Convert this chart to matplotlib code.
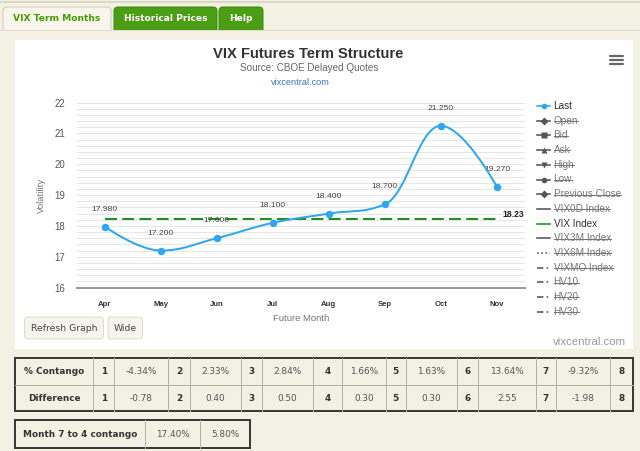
import numpy as np
import matplotlib
matplotlib.use('Agg')
import matplotlib.pyplot as plt
from matplotlib.patches import Rectangle, FancyBboxPatch, PathPatch
from matplotlib.path import Path
from matplotlib.lines import Line2D

# ---------------- data ----------------
months = ['Apr', 'May', 'Jun', 'Jul', 'Aug', 'Sep', 'Oct', 'Nov']
last_prices = [17.98, 17.20, 17.60, 18.10, 18.40, 18.70, 21.25, 19.27]
vix_index = 18.23
legend_names = ['Last', 'Open', 'Bid', 'Ask', 'High', 'Low', 'Previous Close',
                'VIX0D Index', 'VIX Index', 'VIX3M Index', 'VIX6M Index',
                'VIXMO Index', 'HV10', 'HV20', 'HV30']
legend_active = ['Last', 'VIX Index']
month_numbers = [1, 2, 3, 4, 5, 6, 7, 8]
contango_pct = [-4.34, 2.33, 2.84, 1.66, 1.63, 13.64, -9.32]
difference = [-0.78, 0.40, 0.50, 0.30, 0.30, 2.55, -1.98]
m7_to_4 = [17.40, 5.80]
tabs = ['VIX Term Months', 'Historical Prices', 'Help']

# ---------------- style ----------------
W, H = 640, 451
PT = 0.72  # px -> pt
BEIGE = '#f3f0e4'
GREEN_TAB = '#4a9d14'
BLUE = '#2ea6f2'
VIXGREEN = '#1f8f1f'
SANS = 'Liberation Sans'
UI = 'DejaVu Sans'

fig = plt.figure(figsize=(W / 100, H / 100), dpi=100)
fig.patch.set_facecolor(BEIGE)

bg = fig.add_axes([0, 0, 1, 1])
bg.set_xlim(0, W)
bg.set_ylim(H, 0)
bg.axis('off')

# top strip lines
bg.add_line(Line2D([0, W], [1.5, 1.5], color='#ddd8c4', lw=2 * PT))
bg.add_line(Line2D([0, W], [30, 30], color='#e2ddcb', lw=1 * PT))

# tabs
tab_x = [(3, 111), (114, 217), (219, 263)]
for i, (name, (x0, x1)) in enumerate(zip(tabs, tab_x)):
    if i == 0:
        fc, ec, tc = '#f7f5ec', '#d2cdb8', '#459e00'
    else:
        fc, ec, tc = GREEN_TAB, '#3d8a0c', 'white'
    bg.add_patch(FancyBboxPatch((x0, 7), x1 - x0, 26, boxstyle='round,pad=0,rounding_size=4',
                                fc=fc, ec=ec, lw=1 * PT))
    bg.text((x0 + x1) / 2, 18.5, name, ha='center', va='center', color=tc,
            fontsize=6.6, fontweight='bold', family=UI)
bg.add_patch(Rectangle((0, 30.5), W, 5, fc=BEIGE, ec='none'))

# white chart panel
bg.add_patch(Rectangle((15, 40), 618, 309, fc='white', ec='none'))

# titles
bg.text(308.5, 54.5, 'VIX Futures Term Structure', ha='center', va='center',
        fontsize=14.7 * PT, fontweight='bold', color='#333333', family=SANS)
bg.text(308.8, 68.3, 'Source: CBOE Delayed Quotes', ha='center', va='center',
        fontsize=9.9 * PT, color='#666666', family=SANS)
bg.text(300, 82.7, 'vixcentral.com', ha='center', va='center',
        fontsize=9.2 * PT, color='#3a74c0', family=SANS)

# hamburger icon
for yy in (55.5, 59.5, 63.5):
    bg.add_line(Line2D([610, 623], [yy, yy], color='#666666', lw=2.2 * PT,
                       solid_capstyle='round'))

# ---------------- main chart ----------------
ax_l, ax_r, ax_t, ax_b = 76.7, 525, 102.7, 287.5
ax = fig.add_axes([ax_l / W, 1 - ax_b / H, (ax_r - ax_l) / W, (ax_b - ax_t) / H])
ax.set_facecolor('none')
ax.set_zorder(2)
n = len(months)
xs = np.arange(n)
ax.set_xlim(-0.5, n - 0.5)
ax.set_ylim(16, 22)
ax.set_yticks(range(16, 23))
ax.set_yticks(np.round(np.arange(16, 22.001, 0.2), 1), minor=True)
ax.yaxis.grid(True, which='both', color='#e6e6e6', lw=1 * PT)
ax.set_axisbelow(True)
for s in ('top', 'right', 'left'):
    ax.spines[s].set_visible(False)
ax.spines['bottom'].set_color('#999999')
ax.spines['bottom'].set_linewidth(2 * PT)
ax.tick_params(axis='y', which='both', length=0, pad=8.4, labelsize=9.6 * PT,
               labelcolor='#555555')
ax.tick_params(axis='x', length=0, pad=13.5 * PT, labelsize=7.8 * PT,
               labelcolor='#333333')
ax.set_xticks(xs)
ax.set_xticklabels(months, fontweight='bold', family=SANS)
for lb in ax.get_yticklabels():
    lb.set_family(SANS)
ax.set_ylabel('Volatility', fontsize=9.5 * PT, color='#777777', family=SANS, labelpad=6)
ax.set_xlabel('Future Month', fontsize=9.5 * PT, color='#777777', family=SANS, labelpad=4.5)


def highcharts_spline(xv, yv, smoothing=1.5):
    m = len(xv)
    verts = [(xv[0], yv[0])]
    codes = [Path.MOVETO]
    right_prev = (xv[0], yv[0])
    for i in range(1, m):
        x, y = xv[i], yv[i]
        lx, ly = xv[i - 1], yv[i - 1]
        if i < m - 1:
            nx, ny = xv[i + 1], yv[i + 1]
            d = smoothing + 1
            lcx = (smoothing * x + lx) / d
            lcy = (smoothing * y + ly) / d
            rcx = (smoothing * x + nx) / d
            rcy = (smoothing * y + ny) / d
            if rcx != lcx:
                corr = ((rcy - lcy) * (rcx - x)) / (rcx - lcx) + y - rcy
                lcy += corr
                rcy += corr
            if lcy > ly and lcy > y:
                lcy = max(ly, y); rcy = 2 * y - lcy
            elif lcy < ly and lcy < y:
                lcy = min(ly, y); rcy = 2 * y - lcy
            if rcy > ny and rcy > y:
                rcy = max(ny, y); lcy = 2 * y - rcy
            elif rcy < ny and rcy < y:
                rcy = min(ny, y); lcy = 2 * y - rcy
        else:
            lcx, lcy, rcx, rcy = x, y, x, y
        verts += [right_prev, (lcx, lcy), (x, y)]
        codes += [Path.CURVE4] * 3
        right_prev = (rcx, rcy)
    return Path(verts, codes)


# VIX index dashed line
ax.plot([xs[0], xs[-1]], [vix_index, vix_index], color=VIXGREEN, lw=2 * PT,
        linestyle=(0, (6, 2.6)), zorder=3)
ax.annotate(f'{vix_index:.2f}', (xs[-1], vix_index), xytext=(6 * PT, 4.5 * PT),
            textcoords='offset points', ha='left', va='center', fontsize=8.7 * PT,
            fontweight='bold', color='#222222', family=SANS, annotation_clip=False)

# Last series
ax.add_patch(PathPatch(highcharts_spline(list(xs), last_prices), fc='none', ec=BLUE,
                       lw=2 * PT, zorder=4))
ax.plot(xs, last_prices, 'o', color=BLUE, ms=7.5 * PT, mec='none', zorder=5)
for x, v in zip(xs, last_prices):
    ax.annotate(f'{v:.3f}', (x, v), xytext=(0, 17.5 * PT), textcoords='offset points',
                ha='center', va='center', fontsize=8.5 * PT, color='#444444', family=SANS)

# ---------------- legend ----------------
markers = ['o', 'D', 's', '^', 'v', 'o', 'D', None, None, None, None, None, None, None, None]
styles = ['-', '-', '-', '-', '-', '-', '-', '-', '-', '-', ':', (0, (4, 2, 1, 2)),
          (0, (4, 2, 1, 2)), (0, (4, 2, 1, 2)), (0, (4, 2, 1, 2))]
texts = []
for i, name in enumerate(legend_names):
    yy = 106 + i * 14.7
    active = name in legend_active
    if name == 'Last':
        col = BLUE
    elif name == 'VIX Index':
        col = VIXGREEN
    else:
        col = '#555555'
    bg.add_line(Line2D([537, 550], [yy, yy], color=col, lw=1.6 * PT, linestyle=styles[i]))
    if markers[i]:
        bg.add_line(Line2D([543.5], [yy], marker=markers[i], color=col, ms=5.6 * PT,
                           mec='none'))
    t = bg.text(553.5, yy, name, ha='left', va='center', fontsize=10 * PT,
                color='#333333' if active else '#777777', family=SANS)
    texts.append((t, active))

# ---------------- buttons ----------------
for (x0, x1), lab in zip([(24.5, 103.5), (108, 142.5)], ['Refresh Graph', 'Wide']):
    bg.add_patch(FancyBboxPatch((x0, 317), x1 - x0, 22, boxstyle='round,pad=0,rounding_size=3',
                                fc='#f6f4ec', ec='#e0dccb', lw=1 * PT))
    bg.text((x0 + x1) / 2, 328.3, lab, ha='center', va='center', fontsize=6.7,
            color='#444444', family=UI)

bg.text(626, 341.7, 'vixcentral.com', ha='right', va='center', fontsize=11.4 * PT,
        color='#999999', family=SANS)

# ---------------- tables ----------------
col_edges = [15, 93.3, 114.3, 168.3, 190, 241, 262.3, 313, 341.7, 385.7, 406,
             456.7, 478.3, 535.7, 556, 610, 633]
row_edges = [358.3, 385, 411]
rows = [('% Contango', [f'{v:.2f}%' for v in contango_pct]),
        ('Difference', [f'{v:.2f}' for v in difference])]
TFS = 6.4
for r, (label, vals) in enumerate(rows):
    y0, y1 = row_edges[r], row_edges[r + 1]
    yc = (y0 + y1) / 2
    cells = [(label, True)]
    for k, num in enumerate(month_numbers):
        cells.append((str(num), True))
        if k < len(vals):
            cells.append((vals[k], False))
    for c, (txt, bold) in enumerate(cells):
        xc = (col_edges[c] + col_edges[c + 1]) / 2
        bg.text(xc, yc + 0.3, txt, ha='center', va='center', fontsize=TFS,
                fontweight='bold' if bold else 'normal',
                color='#333333' if bold else '#555555', family=UI)
for xe in col_edges[1:-1]:
    bg.add_line(Line2D([xe, xe], [row_edges[0], row_edges[-1]], color='#b5b1a4', lw=1 * PT))
bg.add_line(Line2D([col_edges[0], col_edges[-1]], [row_edges[1], row_edges[1]],
                   color='#b5b1a4', lw=1 * PT))
bg.add_patch(Rectangle((col_edges[0], row_edges[0]), col_edges[-1] - col_edges[0],
                       row_edges[-1] - row_edges[0], fc='none', ec='#3a3a3a', lw=2 * PT))

t2_edges = [15, 145, 200, 250]
t2_cells = [('Month 7 to 4 contango', True), (f'{m7_to_4[0]:.2f}%', False),
            (f'{m7_to_4[1]:.2f}%', False)]
for c, (txt, bold) in enumerate(t2_cells):
    xc = (t2_edges[c] + t2_edges[c + 1]) / 2
    bg.text(xc, 434.3, txt, ha='center', va='center', fontsize=TFS,
            fontweight='bold' if bold else 'normal',
            color='#333333' if bold else '#555555', family=UI)
for xe in t2_edges[1:-1]:
    bg.add_line(Line2D([xe, xe], [420, 447.7], color='#b5b1a4', lw=1 * PT))
bg.add_patch(Rectangle((15, 420), 235, 27.7, fc='none', ec='#3a3a3a', lw=2 * PT))

# strikethrough for hidden legend items
fig.canvas.draw()
rend = fig.canvas.get_renderer()
for t, active in texts:
    if active:
        continue
    bb = t.get_window_extent(rend)
    ymid = H - (bb.y0 + bb.y1) / 2
    bg.add_line(Line2D([bb.x0, bb.x1], [ymid + 0.3, ymid + 0.3], color='#777777', lw=1 * PT))

fig.savefig('out.png', dpi=100, facecolor=fig.get_facecolor())
